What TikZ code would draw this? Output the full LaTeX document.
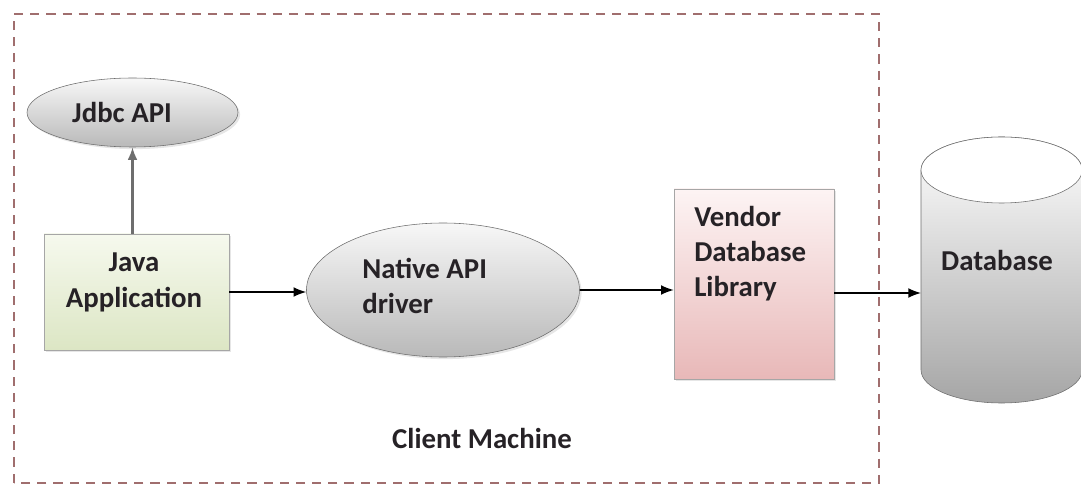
\documentclass[tikz,border=0pt]{standalone}
\usepackage{fontspec}
\setmainfont{Carlito}
\RequirePackage{xcolor}
\usetikzlibrary{positioning}
\usetikzlibrary{arrows.meta,shapes.geometric,shadows}

\definecolor{framered}{RGB}{160,110,110}
\definecolor{linegray}{RGB}{110,110,110}
\definecolor{inkdark}{RGB}{38,34,38}

\tikzset{every picture/.style={/utils/exec={\fontsize{20.5}{25}\selectfont\bfseries}}}
\tikzset{
  frame/.style={draw=framered, line width=1.2pt, dash pattern=on 6.5pt off 5pt},
  bubble/.style={ellipse, draw=linegray, inner sep=0pt, text=inkdark,
    top color=gray!6, bottom color=gray!55,
    drop shadow={opacity=0.2, shadow xshift=1.5pt, shadow yshift=-1.5pt}},
  appbox/.style={rectangle, draw=gray!70, minimum width=4.625cm, minimum height=2.9cm,
    top color={rgb,255:red,246;green,249;blue,238}, bottom color={rgb,255:red,220;green,230;blue,196},
    drop shadow={opacity=0.2, shadow xshift=1.5pt, shadow yshift=-1.5pt}},
  libbox/.style={rectangle, draw=gray!70, minimum width=4cm, minimum height=4.75cm,
    top color={rgb,255:red,253;green,244;blue,244}, bottom color={rgb,255:red,232;green,184;blue,184},
    drop shadow={opacity=0.2, shadow xshift=1.5pt, shadow yshift=-1.5pt}},
  txt/.style={inner sep=0pt, text=inkdark},
  flow/.style={-{Latex[length=9pt,width=7pt]}, line width=1pt, black}
}

\begin{document}
\begin{tikzpicture}
  \useasboundingbox (0,0) rectangle (27.025,12.15);

  \draw [frame] (0.35,0.08) rectangle (21.975,11.8);

  % client side
  \node [bubble, minimum width=5.275cm, minimum height=1.725cm] (jdbc) at (3.3125,9.3375) {};
  \node [txt] (jdbctxt) at (3.05,9.35) {Jdbc API};
  \node [appbox] (app) at (3.4125,4.85) {};
  \node [txt, align=center, anchor=north] (apptxt) at (3.35,5.825) {Java\\Application};

  \node [bubble, minimum width=6.825cm, minimum height=3.35cm] (drv) at (11.075,4.9) {};
  \node [txt, align=left, anchor=north west] (drvtxt) at (9.05,5.7) {Native API\\driver};

  \node [libbox] (lib) at (18.85,5.05) {};
  \node [txt, align=left, anchor=north west] (libtxt) at (17.35,7.0) {Vendor\\Database\\Library};

  \node [txt] (client) at (12.05,1.2) {Client Machine};

  % database
  \shade [top color=white, bottom color=gray!70, draw=linegray]
    (23.025,7.9) -- (23.025,2.9) arc[start angle=180, end angle=360, x radius=2.015, y radius=0.825]
    -- (27.055,7.9) arc[start angle=0, end angle=180, x radius=2.015, y radius=0.825] -- cycle;
  \draw [fill=white, draw=linegray] (25.04,7.9) ellipse [x radius=2.015, y radius=0.825];
  \node [txt] (db) at (24.925,5.65) {Database};
  \coordinate (dbin) at (23.025,4.825);

  % connectors
  \draw [flow, draw=linegray, line width=1.5pt] (jdbc.south |- app.north) -- (jdbc.south);
  \draw [flow] (app.east) -- (app.east -| drv.west);
  \draw [flow] (drv.east) -- (drv.east -| lib.west);
  \draw [flow] (lib.east |- dbin) -- (dbin);

\end{tikzpicture}
\end{document}
